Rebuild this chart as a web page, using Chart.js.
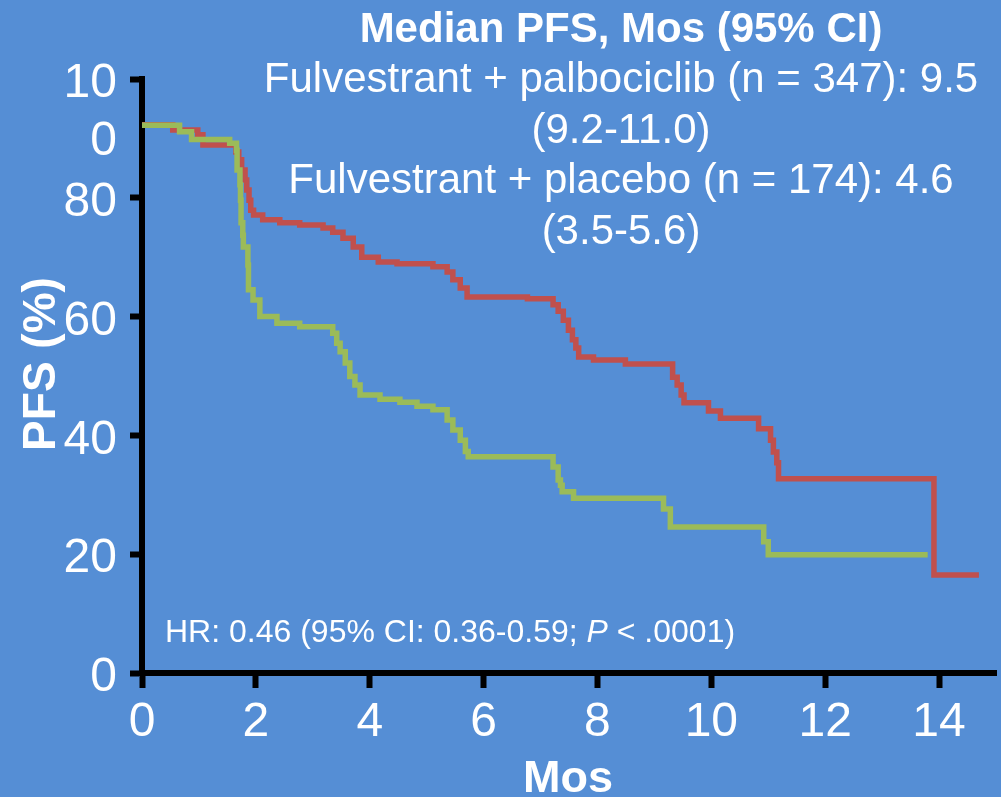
<!DOCTYPE html>
<html>
  <head>
    <title>Median PFS</title>
    <script src="https://cdn.jsdelivr.net/npm/chart.js"></script>
    <style>
      body {
        margin: 0;
        background: #558ed5;
      }
      canvas {
        display: block;
      }
    </style>
  </head>
  <body>
    <canvas id="pfsChart" width="1001" height="797"></canvas>

    <script>
      // fulvestrant + palbociclib (red)
      var palboMonths = [0, 0.54, 0.98, 1.07, 1.65, 1.7, 1.75, 1.81, 1.84, 1.88, 1.91, 1.96, 2.12, 2.42, 2.77, 3.18, 3.35, 3.53, 3.71, 3.86, 4.15, 4.48, 5.11, 5.36, 5.46, 5.59, 5.71, 6.77, 7.22, 7.31, 7.4, 7.49, 7.56, 7.62, 7.67, 7.93, 8.49, 9.32, 9.4, 9.47, 9.52, 9.95, 10.16, 10.83, 11.04, 11.09, 11.15, 11.18, 13.91, 14.7];
      var palboPfs = [92.3, 91.4, 90.6, 88.9, 87.7, 86.4, 84.7, 83.0, 81.3, 79.6, 77.9, 77.1, 76.3, 75.8, 75.4, 74.9, 74.2, 73.2, 71.7, 70.0, 69.2, 68.9, 68.4, 67.5, 66.2, 64.8, 63.3, 63.0, 62.0, 60.9, 59.4, 57.7, 56.1, 54.7, 53.2, 52.7, 52.0, 49.8, 48.5, 46.8, 45.5, 44.1, 42.9, 41.1, 39.2, 37.2, 35.4, 32.7, 16.5, 16.5];

      // fulvestrant + placebo (green)
      var placeboMonths = [0, 0.66, 0.87, 1.54, 1.66, 1.67, 1.72, 1.73, 1.74, 1.77, 1.78, 1.86, 1.87, 1.95, 2.07, 2.37, 2.77, 3.35, 3.42, 3.48, 3.57, 3.65, 3.74, 3.83, 4.18, 4.53, 4.83, 5.11, 5.36, 5.46, 5.59, 5.68, 5.73, 7.22, 7.31, 7.35, 7.38, 7.58, 9.16, 9.28, 10.92, 11.0, 13.8];
      var placeboPfs = [92.2, 91.1, 89.8, 89.2, 88.0, 84.7, 82.2, 79.6, 75.8, 73.7, 71.7, 68.7, 64.5, 62.8, 60.0, 58.9, 58.3, 57.2, 55.5, 54.1, 52.2, 49.9, 48.5, 46.8, 46.1, 45.6, 44.9, 44.3, 42.6, 40.9, 39.2, 37.3, 36.4, 34.7, 32.5, 31.6, 30.5, 29.4, 27.6, 24.6, 22.1, 19.9, 19.9];

      var legendLines = [
        "Median PFS, Mos (95% CI)",
        "Fulvestrant + palbociclib (n = 347): 9.5",
        "(9.2-11.0)",
        "Fulvestrant + placebo (n = 174): 4.6",
        "(3.5-5.6)",
      ];

      var FONT = "'Liberation Sans', Arial, sans-serif";

      function toPoints(xs, ys) {
        return xs.map(function (x, i) {
          return { x: x, y: ys[i] };
        });
      }

      // extra texts: summary block, HR note, axis titles, and the stray "0" under "10"
      const notesPlugin = {
        id: "notes",
        afterDraw(chart) {
          const ctx = chart.ctx;
          const yScale = chart.scales.y;
          ctx.save();
          ctx.fillStyle = "#fff";
          ctx.textBaseline = "alphabetic";

          ctx.textAlign = "center";
          legendLines.forEach(function (line, i) {
            ctx.font = (i === 0 ? "bold " : "") + "42px " + FONT;
            ctx.fillText(line, 621, 42 + i * 50.4);
          });

          // "100" wraps in the original: second line "0"
          ctx.textAlign = "right";
          ctx.textBaseline = "middle";
          ctx.font = "48px " + FONT;
          ctx.fillText("0", chart.chartArea.left - 25, yScale.getPixelForValue(89.5));

          // HR note
          ctx.textAlign = "left";
          ctx.textBaseline = "alphabetic";
          ctx.font = "32px " + FONT;
          var x = 165;
          var before = "HR: 0.46 (95% CI: 0.36-0.59; ";
          ctx.fillText(before, x, 642);
          x += ctx.measureText(before).width;
          ctx.font = "italic 32px " + FONT;
          ctx.fillText("P", x, 642);
          x += ctx.measureText("P").width;
          ctx.font = "32px " + FONT;
          ctx.fillText(" < .0001)", x, 642);

          // axis titles
          ctx.font = "bold 45px " + FONT;
          ctx.textAlign = "center";
          ctx.fillText("Mos", 568, 792);

          ctx.translate(55, 364);
          ctx.rotate(-Math.PI / 2);
          ctx.font = "bold 46px " + FONT;
          ctx.fillText("PFS (%)", 0, 0);
          ctx.restore();
        },
      };

      new Chart(document.getElementById("pfsChart"), {
        type: "line",
        data: {
          datasets: [
            {
              label: "Fulvestrant + placebo",
              data: toPoints(placeboMonths, placeboPfs),
              borderColor: "#9bbb59",
              stepped: "before",
            },
            {
              label: "Fulvestrant + palbociclib",
              data: toPoints(palboMonths, palboPfs),
              borderColor: "#c0504d",
              stepped: "before",
            },
          ],
        },
        options: {
          responsive: false,
          animation: false,
          layout: { padding: { top: 79, right: 5, left: 0, bottom: 0 } },
          elements: {
            point: { radius: 0 },
            line: { borderWidth: 5.5, tension: 0, fill: false },
          },
          plugins: {
            legend: { display: false },
            tooltip: { enabled: false },
          },
          scales: {
            x: {
              type: "linear",
              min: 0,
              max: 15,
              afterFit: function (scale) {
                scale.height = 124;
              },
              ticks: {
                stepSize: 2,
                includeBounds: false,
                maxRotation: 0,
                color: "#fff",
                padding: 6,
                font: { size: 48, family: FONT },
              },
              grid: {
                drawOnChartArea: false,
                tickLength: 15,
                tickColor: "#000",
                tickWidth: 6,
              },
              border: { color: "#000", width: 6 },
            },
            y: {
              min: 0,
              max: 100,
              afterFit: function (scale) {
                scale.width = 142;
              },
              ticks: {
                stepSize: 20,
                color: "#fff",
                padding: 13,
                labelOffset: 5,
                font: { size: 48, family: FONT },
                callback: function (v) {
                  return v === 100 ? "10" : v;
                },
              },
              grid: {
                drawOnChartArea: false,
                tickLength: 12,
                tickColor: "#000",
                tickWidth: 6,
              },
              border: { color: "#000", width: 6 },
            },
          },
        },
        plugins: [notesPlugin],
      });
    </script>
  </body>
</html>
